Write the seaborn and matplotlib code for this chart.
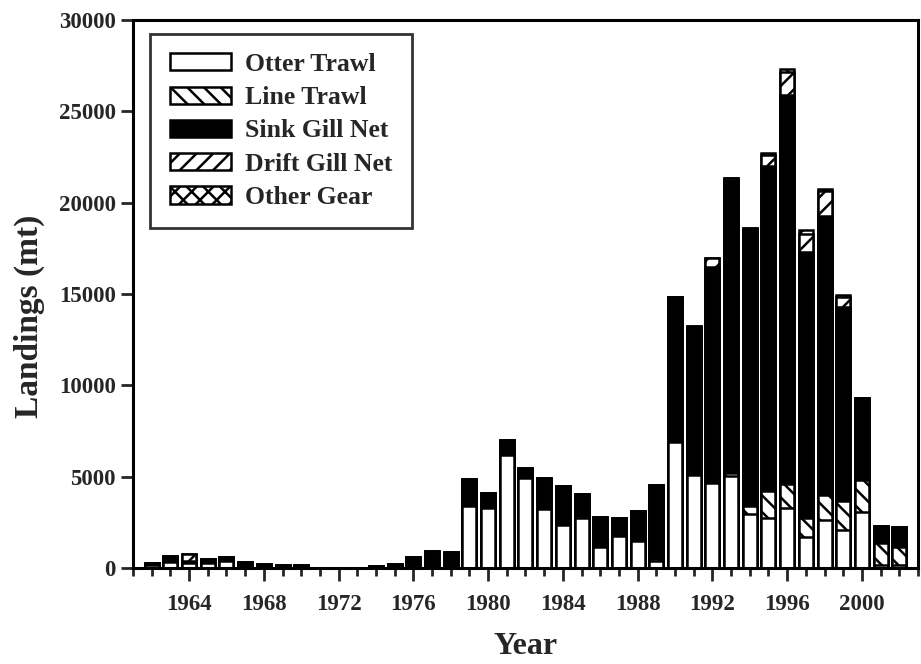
import matplotlib
matplotlib.use("Agg")
import matplotlib.pyplot as plt
import seaborn as sns
import numpy as np
from matplotlib.patches import Patch
from matplotlib.ticker import MultipleLocator

# landings (mt) by gear
years = list(range(1962, 2003))
otter_trawl = [150, 350, 300, 300, 400, 0, 0, 0, 0, 0, 0, 0, 0, 0, 0, 0, 0,
               3400, 3270, 6200, 4950, 3250, 2370, 2720, 1130, 1740, 1460, 370,
               6910, 5080, 4660, 5010, 2940, 2720, 3310, 1720, 2620, 2100, 3050,
               170, 160]
line_trawl = [0, 0, 0, 0, 0, 0, 0, 0, 0, 0, 0, 0, 0, 0, 0, 0, 0,
              0, 0, 0, 0, 0, 0, 150, 0, 0, 0, 100,
              0, 0, 0, 200, 450, 1470, 1290, 1040, 1370, 1590, 1770,
              1220, 1010]
sink_gill_net = [100, 330, 70, 210, 220, 310, 200, 150, 150, 0, 0, 0, 120, 200, 590, 950, 860,
                 1460, 860, 780, 510, 1700, 2130, 1200, 1670, 1000, 1640, 4060,
                 7930, 8090, 11840, 16040, 15150, 17840, 21290, 14550, 15270, 10610, 4480,
                 930, 1080]
drift_gill_net = [0, 0, 400, 0, 0, 0, 0, 0, 0, 0, 0, 0, 0, 0, 0, 0, 0,
                  0, 0, 0, 0, 0, 0, 0, 0, 0, 0, 0,
                  0, 100, 480, 80, 80, 550, 1250, 970, 1350, 550, 0,
                  0, 0]
other_gear = [0, 0, 0, 0, 0, 0, 0, 0, 0, 0, 0, 0, 0, 0, 0, 0, 0,
              0, 0, 0, 0, 0, 0, 0, 0, 0, 0, 0,
              0, 0, 0, 0, 0, 120, 200, 200, 150, 120, 0,
              0, 0]

gears = ["Otter Trawl", "Line Trawl", "Sink Gill Net", "Drift Gill Net", "Other Gear"]
series = [otter_trawl, line_trawl, sink_gill_net, drift_gill_net, other_gear]
faces = ["white", "white", "black", "white", "white"]
hatches = ["", "\\\\", "", "//", "xx"]

sns.set_style("ticks")
plt.rcParams["font.family"] = ["Liberation Serif", "DejaVu Serif"]
plt.rcParams["font.weight"] = "bold"
plt.rcParams["hatch.linewidth"] = 1.8

fig = plt.figure(figsize=(9.21, 6.64), dpi=100)
ax = fig.add_axes([0.1444, 0.1446, 0.8523, 0.8254])

# stacked: draw cumulative totals from the top layer down
cum = np.cumsum(np.array(series), axis=0)
for i in range(len(gears) - 1, -1, -1):
    sns.barplot(x=years, y=cum[i], native_scale=True, width=0.75, ax=ax,
                color=faces[i], saturation=1, edgecolor="black", linewidth=1.8,
                hatch=hatches[i], errorbar=None)

ax.set_xlim(1961, 2003)
ax.set_ylim(0, 30000)
ax.set_xticks(range(1964, 2001, 4))
ax.xaxis.set_minor_locator(MultipleLocator(1))
ax.set_yticks(range(0, 30001, 5000))
ax.tick_params(axis="both", which="major", direction="out", length=9, width=2,
               labelsize=16.5)
ax.tick_params(axis="x", which="major", pad=10)
ax.tick_params(axis="x", which="minor", direction="out", length=6, width=2)
for lab in ax.get_xticklabels() + ax.get_yticklabels():
    lab.set_fontweight("bold")
for sp in ax.spines.values():
    sp.set_visible(True)
    sp.set_linewidth(2.2)
    sp.set_color("black")

ax.set_xlabel("Year", fontsize=23, fontweight="bold", labelpad=12)
ax.set_ylabel("Landings (mt)", fontsize=24, fontweight="bold")
ax.yaxis.set_label_coords(-0.112, 0.46)

handles = [Patch(facecolor=faces[i], edgecolor="black", hatch=hatches[i],
                 linewidth=1.8, label=gears[i]) for i in range(len(gears))]
leg = ax.legend(handles=handles, loc="upper left", bbox_to_anchor=(0.022, 0.975),
                fontsize=18.5, frameon=True, fancybox=False, handlelength=2.4,
                handleheight=0.65, labelspacing=0.4, borderpad=0.75,
                handletextpad=0.55, borderaxespad=0)
leg.get_frame().set_edgecolor("black")
leg.get_frame().set_linewidth(2)
for t in leg.get_texts():
    t.set_fontweight("bold")

fig.savefig("out.png", dpi=100)
